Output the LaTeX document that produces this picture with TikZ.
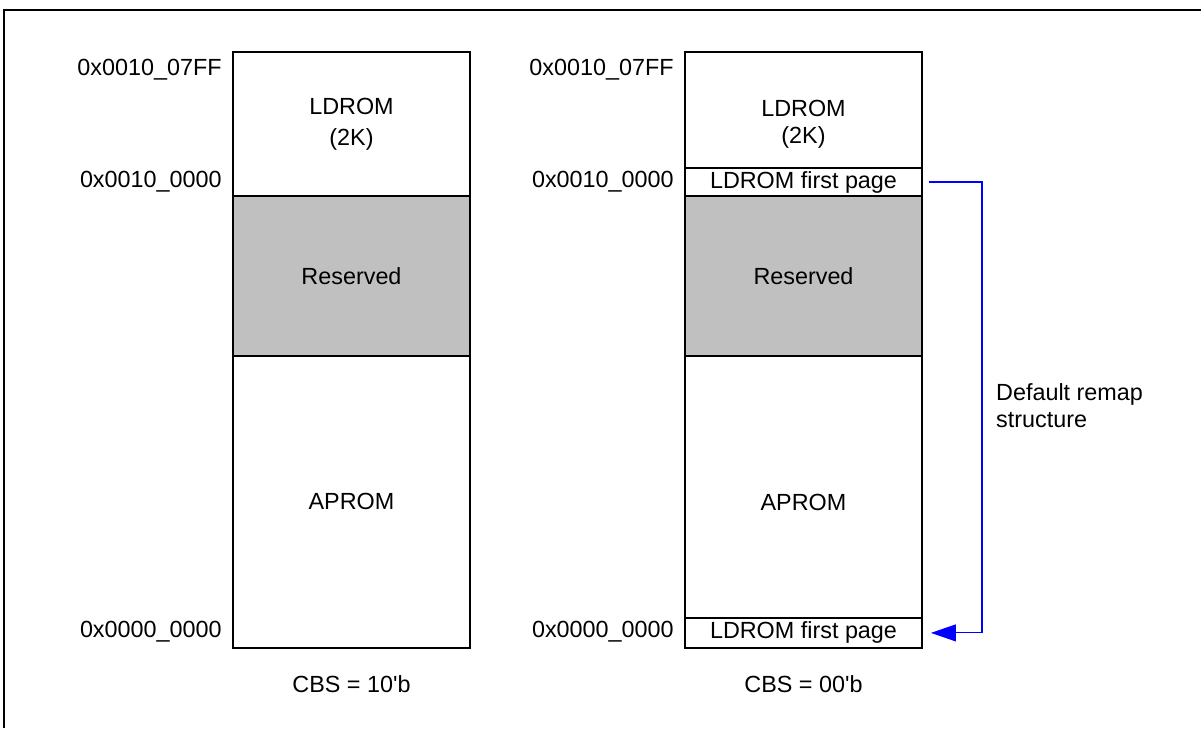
\documentclass[tikz,border=0pt]{standalone}
\usepackage{fontspec}
\setmainfont{Liberation Sans}
\usetikzlibrary{arrows.meta,positioning}
\definecolor{resgray}{HTML}{C0C0C0}

\begin{document}
\begin{tikzpicture}[
  x=0.02cm, y=-0.02cm,
  node distance=0pt,
  every node/.style={font=\fontsize{13.3}{15.5}\selectfont},
  region/.style={draw=black, line width=0.8pt, fill=white, minimum width=4.74cm,
                 inner sep=0pt, outer sep=0pt, align=center},
  resv/.style={region, fill=resgray},
  inlbl/.style={align=center, inner sep=0pt},
  addr/.style={anchor=east, inner sep=0pt},
  remap/.style={-{Triangle[length=0.5cm, width=0.34cm]}, blue, line width=0.6pt}
]
\useasboundingbox (0,0) rectangle (1201,728);
\draw[line width=1.6pt] (4,728) -- (4,10) -- (1201,10);

% CBS = 10'b
\node[region, minimum height=2.88cm] (ldromA) at (351.5,124) {LDROM\\[2pt](2K)};
\node[resv, minimum height=3.2cm, below=of ldromA] (resvA) {Reserved};
\node[region, minimum height=5.84cm, below=of resvA] (apromA) {APROM};
\node[below=0.42cm of apromA] (cbsA) {CBS = 10\textquotesingle b};

% CBS = 00'b
\node[region, minimum height=2.32cm,
      label={[inlbl, yshift=-0.28cm]center:LDROM\\(2K)}] (ldromB) at (803.5,110) {};
\node[region, minimum height=0.56cm, below=of ldromB] (firstB) {LDROM first page};
\node[resv, minimum height=3.2cm, below=of firstB] (resvB) {Reserved};
\node[region, minimum height=5.24cm, below=of resvB,
      label={[inlbl, yshift=-0.32cm]center:APROM}] (apromB) {};
\node[region, minimum height=0.6cm, below=of apromB] (lastB) {LDROM first page};
\node[below=0.42cm of lastB] (cbsB) {CBS = 00\textquotesingle b};

% addresses
\node[addr] (topA) at (222,70) {0x0010\_07FF};
\node[addr] (midA) at (222,182) {0x0010\_0000};
\node[addr] (botA) at (222,632) {0x0000\_0000};
\node[addr] (topB) at (674,70) {0x0010\_07FF};
\node[addr] (midB) at (674,182) {0x0010\_0000};
\node[addr] (botB) at (674,632) {0x0000\_0000};

\draw[remap, shorten <=0.14cm, shorten >=0.18cm] (firstB.east) -- ++(60,0) |- (lastB.east);
\node[anchor=west, align=left] (remaptxt) at (990,406) {Default remap\\structure};
\end{tikzpicture}
\end{document}
